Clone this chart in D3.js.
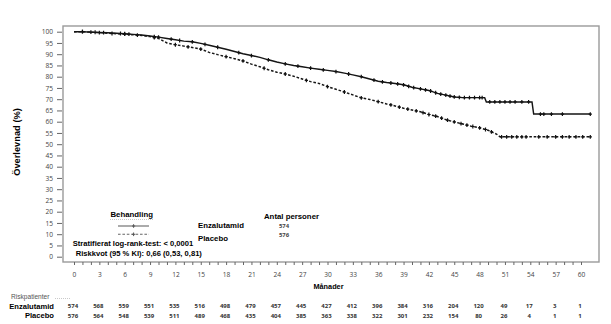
<!DOCTYPE html>
<html><head><meta charset="utf-8">
<script src="https://cdn.jsdelivr.net/npm/d3@7"></script>
<style>body{margin:0;background:#fff} svg{display:block}</style>
</head><body>
<svg id="c" width="611" height="324"></svg>
<script>
// ---- data ----
const enzaTime = [0,1,2,3,4,5,6,7,8,9,10,11,12,13,14,15,16,17,18,19,20,21,22,23,24,25,26,27,28,29,30,31,32,33,34,35,36,37,38,39,40,41,42,43,44,45,46,48.6,48.8,54.2,54.4,61.1];
const enzaSurv = [100,100,99.8,99.7,99.5,99.3,99.1,98.8,98.5,98.1,97.6,97.0,96.4,95.8,95.5,94.8,94.0,93.1,92.2,91.2,90.2,89.4,88.6,87.5,86.5,85.7,85.0,84.4,83.8,83.3,82.8,82.3,81.6,80.8,80.0,79.0,78.0,77.4,77.0,76.4,75.3,74.6,73.9,72.6,71.8,71.0,70.7,70.7,68.8,68.8,63.4,63.4];
const placeboTime = [0,1,2,3,4,5,6,7,8,9,10,11,12,13,14,15,16,17,18,19,20,21,22,23,24,25,26,27,28,29,30,31,32,33,34,35,36,37,38,39,40,41,42,43,44,45,46,47,48,49,50,50.4,61.1];
const placeboSurv = [100,100,99.8,99.6,99.3,99.1,98.9,98.6,98.3,97.8,97.0,95.0,94.2,93.6,93.0,92.3,90.8,89.8,88.9,88.0,87.0,85.6,84.4,83.1,82.0,81.2,80.2,79.0,77.8,77.0,75.6,74.4,73.2,71.9,70.6,69.9,68.9,67.9,67.0,66.0,65.2,64.4,63.2,62.3,60.9,59.9,59.0,58.0,57.3,56.2,54.5,53.3,53.3];
const enzaCensor = [1,2.5,3.5,5.5,6,6.5,9.5,10,11.5,12.5,14,15.5,17,19.5,21,23,25,26.5,28,29.5,31,32.5,34,35.5,36.5,37.5,38.3,39,39.6,40.2,41,41.6,42.2,42.8,43.4,44,44.5,45,45.6,46.2,46.8,47.4,48,48.3,49.2,49.8,50.4,51,51.6,52.2,53,53.8,55.2,55.6,56.5,57.8,61.1];
const placeboCensor = [1,2,3,4.5,6,7.5,9.5,12,13.5,15,18,20,22.5,25,27.5,30,32,34,36,37.5,38.5,39.5,40.5,41.3,42,42.8,43.5,44.2,45,45.8,46.5,47.2,48,48.7,49.4,50.6,51.2,51.8,52.4,53,53.5,55,56,57,57.8,58.6,59.4,60.2,61.1];
const yTicks = [0,5,10,15,20,25,30,35,40,45,50,55,60,65,70,75,80,85,90,95,100];
const xLabelTicks = [0,3,6,9,12,15,18,21,24,27,30,33,36,39,42,45,48,51,54,57,60];
const riskEnza = [574,568,559,551,535,516,498,479,457,445,427,412,396,384,316,204,120,49,17,3,1];
const riskPlacebo = [576,564,548,539,511,489,468,435,404,385,363,338,322,301,232,154,80,26,4,1,1];
const seriesNames = ["Enzalutamid","Placebo"];
const seriesN = [574,576];

// ---- layout ----
const svg = d3.select("#c");
const x = d3.scaleLinear().domain([0,60]).range([74,581]);
const y = d3.scaleLinear().domain([0,100]).range([256.7,31.7]);
const F = "'Liberation Sans', Arial, sans-serif";
const FN = "'Open Sans', 'Noto Sans', sans-serif";

// frame
svg.append("rect").attr("x",63).attr("y",26).attr("width",536).attr("height",236)
  .attr("fill","none").attr("stroke","#9a9a9a").attr("stroke-width",1.4);

// y axis
const ya = svg.append("g").attr("transform","translate(63,0)")
  .call(d3.axisLeft(y).tickValues(yTicks).tickSize(6).tickPadding(3));
ya.select(".domain").remove();
ya.selectAll(".tick line").attr("stroke","#666").attr("x1",-6).attr("x2",-1);
ya.selectAll(".tick text").attr("font-family",FN).attr("font-size",6.6).attr("fill","#444").attr("x",-10);

// x axis
const xa = svg.append("g").attr("transform","translate(0,262)")
  .call(d3.axisBottom(x).tickValues(d3.range(0,61)).tickSize(3)
    .tickFormat(d => xLabelTicks.includes(d) ? d : ""));
xa.select(".domain").remove();
xa.selectAll(".tick line").attr("stroke","#666");
xa.selectAll(".tick text").attr("font-family",FN).attr("font-size",6.6).attr("fill","#444")
  .attr("y",14.5).attr("dy",0);

// axis titles
svg.append("text").attr("transform","translate(20,142) rotate(-90)").attr("text-anchor","middle")
  .attr("font-family",F).attr("font-weight","bold").attr("font-size",9.3).text("Överlevnad (%)");
svg.append("text").attr("x",x(30)+1).attr("y",289).attr("text-anchor","middle")
  .attr("font-family",F).attr("font-weight","bold").attr("font-size",7.3).text("Månader");

// curves
const line = d3.line().x(d=>x(d[0])).y(d=>y(d[1]));
function interp(ts, vs, t){
  for(let i=0;i<ts.length-1;i++){
    if(t>=ts[i] && t<=ts[i+1]){ const f=(t-ts[i])/(ts[i+1]-ts[i]||1); return vs[i]+f*(vs[i+1]-vs[i]); }
  }
  return vs[vs.length-1];
}
const series = [
  {t:enzaTime, s:enzaSurv, c:enzaCensor, dash:null},
  {t:placeboTime, s:placeboSurv, c:placeboCensor, dash:"2.6,1.8"}
];
series.forEach(S=>{
  svg.append("path").datum(S.t.map((t,i)=>[t,S.s[i]])).attr("d",line)
    .attr("fill","none").attr("stroke","#151515").attr("stroke-width",1.45)
    .attr("stroke-dasharray",S.dash);
  svg.append("g").selectAll("path").data(S.c).join("path")
    .attr("d",t=>{const px=x(t), py=y(interp(S.t,S.s,t)); return `M${px-1.6},${py}h3.2M${px},${py-1.9}v3.8`;})
    .attr("stroke","#111").attr("stroke-width",1.2).attr("fill","none");
});

// legend
svg.append("text").attr("x",131.7).attr("y",217).attr("text-anchor","middle")
  .attr("font-family",F).attr("font-weight","bold").attr("font-size",7.8).text("Behandling");
svg.append("line").attr("x1",110).attr("x2",153).attr("y1",219.5).attr("y2",219.5)
  .attr("stroke","#bbb").attr("stroke-width",0.8).attr("stroke-dasharray","1,1");
[226,234.3].forEach((ly,i)=>{
  svg.append("line").attr("x1",118).attr("x2",149).attr("y1",ly).attr("y2",ly)
    .attr("stroke","#666").attr("stroke-width",1.1).attr("stroke-dasharray",i? "2.6,1.8":null);
  svg.append("path").attr("d",`M132,${ly}h3.2M133.6,${ly-1.8}v3.6`).attr("stroke","#555").attr("stroke-width",1);
});
svg.append("text").attr("x",291.5).attr("y",219).attr("text-anchor","middle")
  .attr("font-family",F).attr("font-weight","bold").attr("font-size",7.8).text("Antal personer");
seriesNames.forEach((n,i)=>{
  svg.append("text").attr("x",198).attr("y",[228,241][i])
    .attr("font-family",F).attr("font-weight","bold").attr("font-size",7.8).text(n);
  svg.append("text").attr("x",284).attr("y",[227.5,236.5][i]).attr("text-anchor","middle")
    .attr("font-family",FN).attr("font-weight","700").attr("font-size",5.9).attr("fill","#444").text(seriesN[i]);
});
svg.append("text").attr("x",72.7).attr("y",246).attr("font-family",F).attr("font-weight","bold")
  .attr("font-size",7.6).text("Stratifierat log-rank-test: < 0,0001");
svg.append("text").attr("x",75.7).attr("y",256.3).attr("font-family",F).attr("font-weight","bold")
  .attr("font-size",7.6).text("Riskkvot (95 % KI): 0,66 (0,53, 0,81)");

// risk table
svg.append("text").attr("x",11).attr("y",298.5).attr("font-family",F).attr("font-size",6.6)
  .attr("fill","#555").text("Riskpatienter");
svg.append("line").attr("x1",55).attr("x2",70).attr("y1",298.5).attr("y2",298.5)
  .attr("stroke","#bbb").attr("stroke-width",0.8).attr("stroke-dasharray","1,1");
svg.append("text").attr("x",54).attr("y",308.5).attr("text-anchor","end").attr("font-family",F)
  .attr("font-weight","bold").attr("font-size",7.6).text("Enzalutamid");
svg.append("text").attr("x",54).attr("y",318).attr("text-anchor","end").attr("font-family",F)
  .attr("font-weight","bold").attr("font-size",7.6).text("Placebo");
[riskEnza, riskPlacebo].forEach((arr,r)=>{
  svg.append("g").selectAll("text").data(arr).join("text")
    .attr("x",(d,i)=>x(xLabelTicks[i])-1).attr("y",[307.5,317.5][r]).attr("text-anchor","middle")
    .attr("font-family",FN).attr("font-weight","700").attr("font-size",6).attr("fill","#333").text(d=>d);
});
</script>
</body></html>
